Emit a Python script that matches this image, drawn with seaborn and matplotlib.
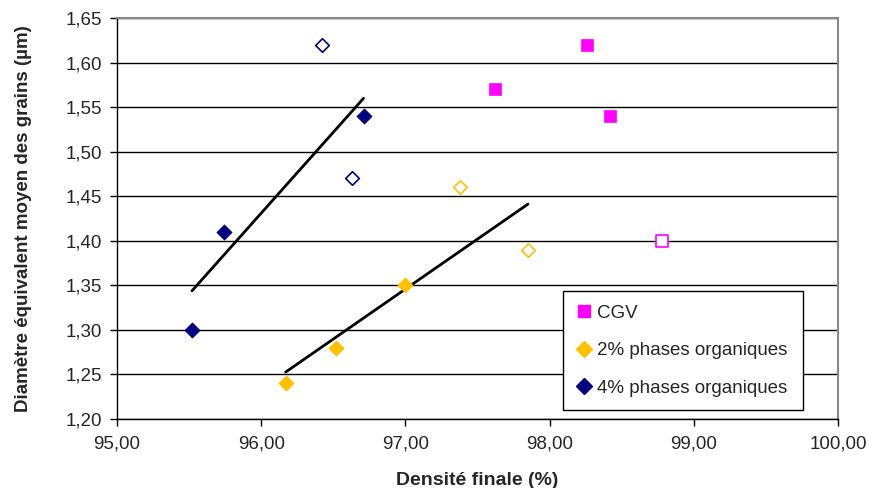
import numpy as np
import pandas as pd
import matplotlib
matplotlib.use("Agg")
import matplotlib.pyplot as plt
import seaborn as sns
from matplotlib.lines import Line2D
from matplotlib.ticker import FuncFormatter

# données
cgv_densite = [98.26, 97.62, 98.42, 98.78]
cgv_diametre = [1.62, 1.57, 1.54, 1.40]
cgv_plein = [True, True, True, False]

po2_densite = [96.17, 96.52, 97.00, 97.38, 97.85]
po2_diametre = [1.24, 1.28, 1.35, 1.46, 1.39]
po2_plein = [True, True, True, False, False]

po4_densite = [95.52, 95.74, 96.71, 96.42, 96.63]
po4_diametre = [1.30, 1.41, 1.54, 1.62, 1.47]
po4_plein = [True, True, True, False, False]

x_ticks = [95.0, 96.0, 97.0, 98.0, 99.0, 100.0]
y_ticks = [1.20, 1.25, 1.30, 1.35, 1.40, 1.45, 1.50, 1.55, 1.60, 1.65]

GROUPES = {
    "CGV": dict(color="#FF00FF", marker="s"),
    "2% phases organiques": dict(color="#FFC000", marker="D"),
    "4% phases organiques": dict(color="#000080", marker="D"),
}

df = pd.concat([
    pd.DataFrame({"densite": cgv_densite, "diametre": cgv_diametre, "plein": cgv_plein, "groupe": "CGV"}),
    pd.DataFrame({"densite": po2_densite, "diametre": po2_diametre, "plein": po2_plein, "groupe": "2% phases organiques"}),
    pd.DataFrame({"densite": po4_densite, "diametre": po4_diametre, "plein": po4_plein, "groupe": "4% phases organiques"}),
], ignore_index=True)

sns.set_style("white")
plt.rcParams["font.family"] = ["Liberation Sans", "DejaVu Sans"]

fig = plt.figure(figsize=(8.69, 4.88), dpi=100)
ax = fig.add_axes([0.1346, 0.1414, 0.8297, 0.8217])

# droites de tendance (sur tous les points du groupe)
for g in ["2% phases organiques", "4% phases organiques"]:
    sub = df[df["groupe"] == g]
    sns.regplot(data=sub, x="densite", y="diametre", ax=ax, scatter=False, ci=None,
                truncate=True, color="black", line_kws=dict(lw=2, zorder=3))

for g, st in GROUPES.items():
    sub = df[df["groupe"] == g]
    taille = 85 if st["marker"] == "s" else 60
    sns.scatterplot(data=sub[sub["plein"]], x="densite", y="diametre", ax=ax,
                    marker=st["marker"], color=st["color"], edgecolor=st["color"],
                    s=taille, linewidth=0.5, zorder=4)
    sns.scatterplot(data=sub[~sub["plein"]], x="densite", y="diametre", ax=ax,
                    marker=st["marker"], color="white", edgecolor=st["color"],
                    s=taille * 0.8, linewidth=1.2, zorder=4)

ax.set_xlim(95, 100)
ax.set_ylim(1.20, 1.65)
ax.set_xticks(x_ticks)
ax.set_yticks(y_ticks)
fmt = FuncFormatter(lambda v, p: f"{v:.2f}".replace(".", ","))
ax.xaxis.set_major_formatter(fmt)
ax.yaxis.set_major_formatter(fmt)
ax.tick_params(axis="both", direction="out", length=5, width=1, color="black",
               labelsize=13.5, bottom=True, left=True)
ax.tick_params(axis="y", pad=6)
ax.tick_params(axis="x", pad=7)

ax.grid(axis="y", color="black", lw=1)
ax.grid(axis="x", visible=False)
ax.set_axisbelow(True)
for s in ["left", "bottom"]:
    ax.spines[s].set_color("black")
    ax.spines[s].set_linewidth(1)
for s in ["top", "right"]:
    ax.spines[s].set_color("#888888")
    ax.spines[s].set_linewidth(1.5)

ax.set_xlabel("Densité finale (%)", fontsize=14, fontweight="bold", labelpad=14)
ax.set_ylabel("Diamètre équivalent moyen des grains (µm)", fontsize=13.5,
              fontweight="bold", labelpad=24)

poignees = [Line2D([0], [0], linestyle="none", marker=st["marker"], markersize=9 if st["marker"] == "s" else 8,
                   markerfacecolor=st["color"], markeredgecolor=st["color"], label=g)
            for g, st in GROUPES.items()]
leg = ax.legend(handles=poignees, loc="lower left", bbox_to_anchor=(0.619, 0.022, 0.332, 0.287),
                mode="expand", fancybox=False, framealpha=1, edgecolor="black",
                fontsize=13.5, handlelength=0.8, handletextpad=0.3, labelspacing=1.1,
                borderpad=0.7, borderaxespad=0)
leg.get_frame().set_linewidth(1)

fig.savefig("out.png", dpi=100)
